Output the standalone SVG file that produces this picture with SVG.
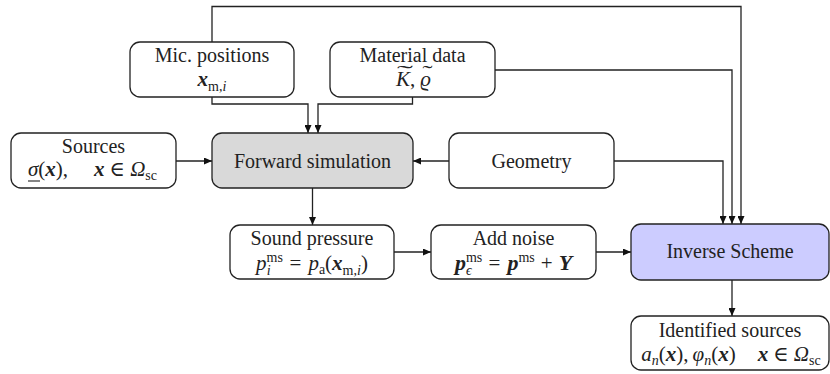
<svg xmlns="http://www.w3.org/2000/svg" width="830" height="374" viewBox="0 0 830 374">
<defs>
<marker id="ah" markerUnits="userSpaceOnUse" markerWidth="8" markerHeight="7" refX="8" refY="3.5" orient="auto">
<path d="M0,0 L8,3.5 L0,7 z" fill="#111"/>
</marker>
<style>
.box{fill:#fff;stroke:#222;stroke-width:1.3}
.t{font-family:"Liberation Serif","DejaVu Serif",serif;font-size:20px;fill:#222;text-anchor:middle}
.m{font-size:21px}
.l{text-anchor:start}
.i{font-style:italic}
.b{font-style:italic;font-weight:bold}
.s{font-size:14px}
.c{fill:none;stroke:#222;stroke-width:1.3;marker-end:url(#ah)}
.u{stroke:#222;stroke-width:1.1}
</style>
</defs>
<rect width="830" height="374" fill="#fff"/>
<g id="connectors">
<path class="c" d="M212,42 V6.5 H741 V224"/>
<path class="c" d="M495,70 H732 V224"/>
<path class="c" d="M614,161 H723 V224"/>
<path class="c" d="M212,97 V104 H308 V133"/>
<path class="c" d="M412.5,97 V104 H318 V133"/>
<path class="c" d="M176,161 H212"/>
<path class="c" d="M449,161 H413"/>
<path class="c" d="M312.5,188 V225"/>
<path class="c" d="M394,252 H431"/>
<path class="c" d="M596,252 H631"/>
<path class="c" d="M732,280 V316"/>
</g>
<g id="mic">
<rect class="box" x="130" y="42" width="164" height="55" rx="10"/>
<text class="t" x="212" y="62">Mic. positions</text>
<text class="t m" x="212" y="86"><tspan class="b">x</tspan><tspan class="s" dy="5">m,</tspan><tspan class="s i">i</tspan></text>
</g>
<g id="material">
<rect class="box" x="330" y="42" width="165" height="55" rx="10"/>
<text class="t" x="412.5" y="62">Material data</text>
<text class="t m l" x="396" y="86"><tspan class="i">K</tspan>,<tspan class="i" dx="5">ϱ</tspan></text>
<text class="t" transform="translate(405,80) scale(2.4,1)">˜</text>
<text class="t" transform="translate(427.5,80) scale(1.5,1)">˜</text>
</g>
<g id="sources">
<rect class="box" x="11" y="133" width="165" height="55" rx="10"/>
<text class="t" x="93.5" y="153">Sources</text>
<text class="t m l" x="28" y="176"><tspan class="i">σ</tspan>(<tspan class="b">x</tspan>),<tspan class="b" dx="26">x</tspan><tspan dx="5">∈</tspan><tspan class="i" dx="5">Ω</tspan><tspan class="s" dy="4">sc</tspan></text>
<line class="u" x1="28" y1="181" x2="40" y2="181"/>
</g>
<g id="forward">
<rect class="box" x="212" y="133" width="201" height="55" rx="10" style="fill:#d9d9d9"/>
<text class="t" x="312.5" y="168">Forward simulation</text>
</g>
<g id="geometry">
<rect class="box" x="449" y="133" width="165" height="55" rx="10"/>
<text class="t" x="531.5" y="168">Geometry</text>
</g>
<g id="sound">
<rect class="box" x="230" y="225" width="164" height="54" rx="10"/>
<text class="t" x="312" y="245">Sound pressure</text>
<text class="t m" x="312" y="270"><tspan class="i">p</tspan><tspan class="s" dy="-8">ms</tspan><tspan class="s i" dx="-16.3" dy="13">i</tspan><tspan dx="19" dy="-5">=</tspan><tspan class="i" dx="7">p</tspan><tspan class="s" dy="4">a</tspan><tspan dy="-4">(</tspan><tspan class="b">x</tspan><tspan class="s" dy="5">m,</tspan><tspan class="s i">i</tspan><tspan dy="-5">)</tspan></text>
</g>
<g id="noise">
<rect class="box" x="431" y="225" width="165" height="54" rx="10"/>
<text class="t" x="513.5" y="245">Add noise</text>
<text class="t m" x="513.5" y="270"><tspan class="b" font-size="22">p</tspan><tspan class="s" dy="-8">ms</tspan><tspan class="s i" dx="-16.3" dy="13">ϵ</tspan><tspan dx="17" dy="-5">=</tspan><tspan class="b" dx="7" font-size="22">p</tspan><tspan class="s" dy="-8">ms</tspan><tspan dx="6" dy="8">+</tspan><tspan class="b" dx="6" font-size="22">Y</tspan></text>
</g>
<g id="inverse">
<rect class="box" x="631" y="224" width="198" height="56" rx="10" style="fill:#ccccff"/>
<text class="t" x="730" y="258">Inverse Scheme</text>
</g>
<g id="identified">
<rect class="box" x="631" y="316" width="198" height="54" rx="10"/>
<text class="t" x="730" y="337">Identified sources</text>
<text class="t m" x="731" y="361"><tspan class="i">a</tspan><tspan class="s i" dy="4">n</tspan><tspan dy="-4">(</tspan><tspan class="b">x</tspan>),<tspan class="i" dx="4">φ</tspan><tspan class="s i" dy="4">n</tspan><tspan dy="-4">(</tspan><tspan class="b">x</tspan>)<tspan class="b" dx="22">x</tspan><tspan dx="5">∈</tspan><tspan class="i" dx="5">Ω</tspan><tspan class="s" dy="4">sc</tspan></text>
</g>
</svg>
